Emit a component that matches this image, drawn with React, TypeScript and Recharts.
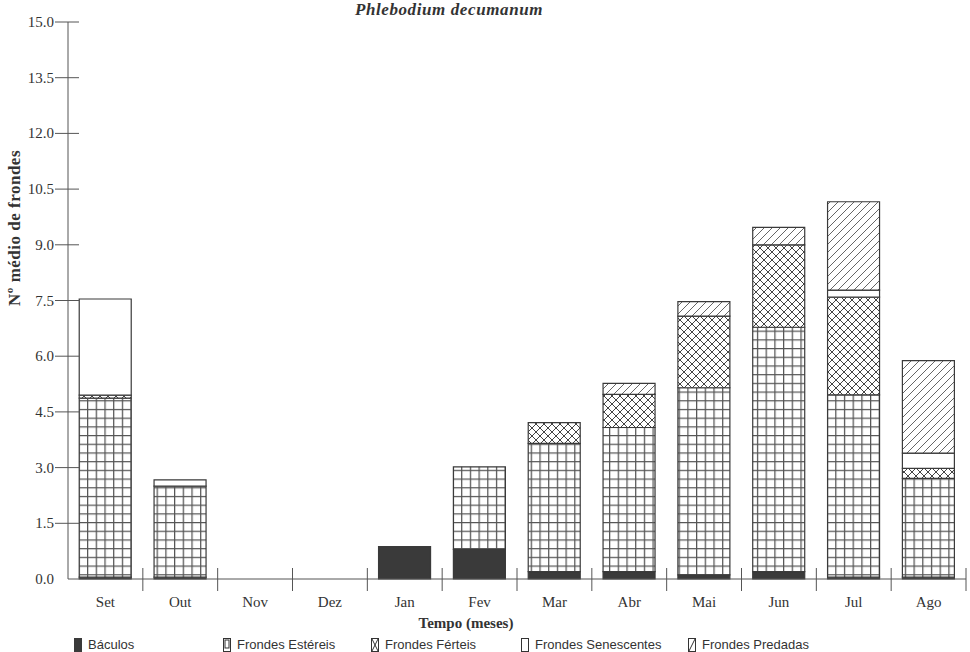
import { BarChart, Bar, XAxis, YAxis } from 'recharts';

// ─── data ─────────────────────────────────────────────────────────────────────

const months = ['Set', 'Out', 'Nov', 'Dez', 'Jan', 'Fev', 'Mar', 'Abr', 'Mai', 'Jun', 'Jul', 'Ago'];

const baculos = [0.05, 0.05, 0, 0, 0.87, 0.8, 0.2, 0.2, 0.11, 0.2, 0.05, 0.05];
const estereis = [4.82, 2.45, 0, 0, 0, 2.22, 3.45, 3.88, 5.04, 6.58, 4.91, 2.66];
const ferteis = [0.08, 0, 0, 0, 0, 0, 0.56, 0.89, 1.93, 2.22, 2.63, 0.27];
const senescentes = [2.59, 0.17, 0, 0, 0, 0, 0, 0, 0, 0, 0.19, 0.41];
const predadas = [0, 0, 0, 0, 0, 0, 0, 0.3, 0.39, 0.47, 2.38, 2.49];

const yTicks = [0, 1.5, 3, 4.5, 6, 7.5, 9, 10.5, 12, 13.5, 15];

const series = [
  { key: 'bac', name: 'Báculos', fill: '#3a3a3a' },
  { key: 'est', name: 'Frondes Estéreis', fill: 'url(#pEst)' },
  { key: 'fer', name: 'Frondes Férteis', fill: 'url(#pFer)' },
  { key: 'sen', name: 'Frondes Senescentes', fill: '#ffffff' },
  { key: 'pred', name: 'Frondes Predadas', fill: 'url(#pPred)' },
];

const data = months.map((m, i) => ({
  month: m,
  bac: baculos[i],
  est: estereis[i],
  fer: ferteis[i],
  sen: senescentes[i],
  pred: predadas[i],
}));

// ─── layout ───────────────────────────────────────────────────────────────────

const W = 970;
const H = 652;
const PLOT_LEFT = 68;
const PLOT_RIGHT = 966;
const BAND = (PLOT_RIGHT - PLOT_LEFT) / months.length;
const AXIS = '#555';
const TEXT = '#333';
const SERIF = '"Liberation Serif", "Times New Roman", serif';

function XTick({ x, y, payload }: any) {
  const bx = x + BAND / 2;
  return (
    <g>
      <line x1={bx} x2={bx} y1={y - 11} y2={y + 12} stroke={AXIS} strokeWidth={1} />
      <text x={x} y={y + 28} textAnchor="middle" fontSize={15} fontFamily={SERIF} fill={TEXT}>
        {payload.value}
      </text>
    </g>
  );
}

function YTick({ x, y, payload }: any) {
  return (
    <g>
      {payload.value !== 0 && <line x1={x - 13} x2={x + 11} y1={y} y2={y} stroke={AXIS} strokeWidth={1} />}
      <text x={x - 14} y={y} dy={5} textAnchor="end" fontSize={15} fontFamily={SERIF} fill={TEXT}>
        {Number(payload.value).toFixed(1)}
      </text>
    </g>
  );
}

// ─── legend icons ─────────────────────────────────────────────────────────────

function Icon({ k }: { k: string }) {
  const stroke = '#333';
  return (
    <svg width={8} height={14} style={{ display: 'block' }}>
      {k === 'bac' ? (
        <rect x={0.5} y={0.5} width={7} height={13} fill="#3a3a3a" stroke="#3a3a3a" />
      ) : (
        <g>
          <rect x={0.5} y={0.5} width={7} height={13} fill="#fff" stroke={stroke} strokeWidth={1} />
          {k === 'est' && <rect x={2} y={2} width={4} height={8} fill="none" stroke={stroke} strokeWidth={1} />}
          {k === 'fer' && <path d="M1 1L7 13M7 1L1 13" stroke={stroke} strokeWidth={1} />}
          {k === 'pred' && <path d="M1 13L7 1" stroke={stroke} strokeWidth={1} />}
        </g>
      )}
    </svg>
  );
}

const legendX = [74, 223, 371, 521, 688];

function ChartLegend() {
  return (
    <div style={{ position: 'absolute', left: 0, top: 637, width: W, height: 14 }}>
      {series.map((s, i) => (
        <div
          key={s.key}
          style={{
            position: 'absolute',
            left: legendX[i],
            top: 0,
            display: 'flex',
            alignItems: 'center',
            gap: 6,
            fontFamily: '"Liberation Sans", Arial, sans-serif',
            fontSize: 13,
            color: TEXT,
            whiteSpace: 'nowrap',
          }}
        >
          <Icon k={s.key} />
          <span>{s.name}</span>
        </div>
      ))}
    </div>
  );
}

// ─── chart ────────────────────────────────────────────────────────────────────

export default function App() {
  return (
    <div style={{ position: 'absolute', left: 0, top: 0, width: W, height: H, background: '#fff' }}>
      <BarChart
        width={W}
        height={H}
        data={data}
        barCategoryGap="15%"
        margin={{ top: 22, right: W - PLOT_RIGHT, left: 8, bottom: 43 }}
      >
        <defs>
          <pattern id="pEst" patternUnits="userSpaceOnUse" width={8.7} height={8.7}>
            <rect width={8.7} height={8.7} fill="#fff" />
            <path d="M0 0.6H8.7M0.6 0V8.7" stroke="#555" strokeWidth={1.3} />
          </pattern>
          <pattern id="pFer" patternUnits="userSpaceOnUse" width={8} height={8}>
            <rect width={8} height={8} fill="#fff" />
            <path d="M0 0L8 8M8 0L0 8" stroke="#444" strokeWidth={1} />
          </pattern>
          <pattern id="pPred" patternUnits="userSpaceOnUse" width={8} height={8}>
            <rect width={8} height={8} fill="#fff" />
            <path d="M-2 2L2 -2M0 8L8 0M6 10L10 6" stroke="#555" strokeWidth={0.9} />
          </pattern>
        </defs>
        <XAxis
          dataKey="month"
          height={30}
          interval={0}
          tickSize={0}
          tickMargin={0}
          tickLine={false}
          axisLine={{ stroke: AXIS }}
          tick={<XTick />}
        />
        <YAxis
          width={60}
          domain={[0, 15]}
          ticks={yTicks}
          interval={0}
          tickSize={0}
          tickMargin={0}
          tickLine={false}
          axisLine={{ stroke: AXIS }}
          tick={<YTick />}
        />
        {series.map(s => (
          <Bar
            key={s.key}
            dataKey={s.key}
            name={s.name}
            stackId="a"
            fill={s.fill}
            stroke="#3a3a3a"
            strokeWidth={1.2}
            isAnimationActive={false}
          />
        ))}
        <text
          x={449}
          y={15}
          textAnchor="middle"
          fontSize={17}
          fontStyle="italic"
          fontWeight="bold"
          letterSpacing={0.6}
          fontFamily={SERIF}
          fill={TEXT}
        >
          Phlebodium decumanum
        </text>
        <text x={466} y={628} textAnchor="middle" fontSize={15} fontWeight="bold" fontFamily={SERIF} fill={TEXT}>
          Tempo (meses)
        </text>
        <text
          x={20}
          y={228}
          transform="rotate(-90 20 228)"
          textAnchor="middle"
          fontSize={17}
          fontWeight="bold"
          letterSpacing={0.5}
          fontFamily={SERIF}
          fill={TEXT}
        >
          Nº médio de frondes
        </text>
      </BarChart>
      <ChartLegend />
    </div>
  );
}
